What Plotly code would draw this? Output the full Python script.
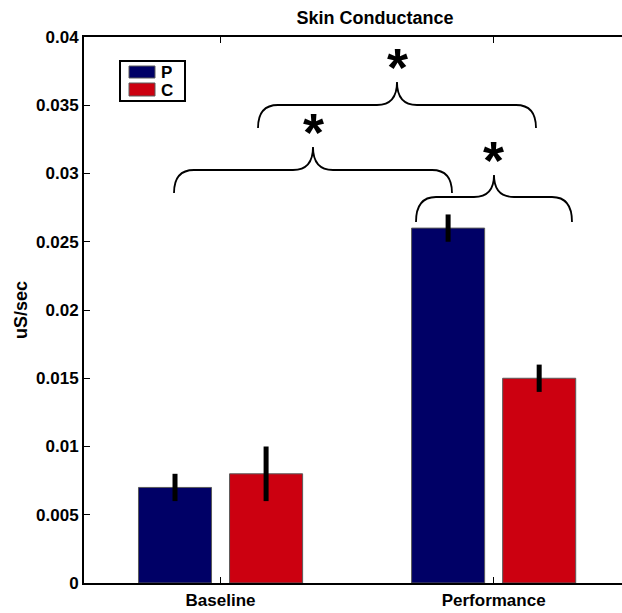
import plotly.graph_objects as go

# ---- data ----
conditions = ["Baseline", "Performance"]
series_names = ["P", "C"]
p_values = [0.007, 0.026]
p_errors = [0.001, 0.001]
c_values = [0.008, 0.015]
c_errors = [0.002, 0.001]
y_tick_values = [0, 0.005, 0.01, 0.015, 0.02, 0.025, 0.03, 0.035, 0.04]
y_tick_labels = ["0", "0.005", "0.01", "0.015", "0.02", "0.025", "0.03", "0.035", "0.04"]
title_text = "Skin Conductance"
y_label = "uS/sec"
star_text = "*"

# ---- style ----
W, H = 622, 613
ML, MR, MT, MB = 84, 0, 37, 30
XMIN, XMAX = -0.5, 1.47
YMIN, YMAX = 0, 0.04
NAVY = "#000066"
RED = "#cc0010"
COLORS = [NAVY, RED]
FONT = "Liberation Sans, Arial, sans-serif"

fig = go.Figure()
fig.add_trace(go.Bar(
    x=conditions, y=p_values, name=series_names[0],
    marker=dict(color=NAVY, line=dict(color="#5a5a5a", width=1)),
    error_y=dict(type="data", array=p_errors, color="black", thickness=5, width=0),
))
fig.add_trace(go.Bar(
    x=conditions, y=c_values, name=series_names[1],
    marker=dict(color=RED, line=dict(color="#5a5a5a", width=1)),
    error_y=dict(type="data", array=c_errors, color="black", thickness=5, width=0),
))

# helpers to place annotation braces (pixel -> paper / data)
pw = W - ML - MR
ph = H - MT - MB

def px_to_paper_x(px):
    return (px - ML) / pw

def py_to_paper_y(py):
    return (H - MB - py) / ph

def py_to_data(py):
    return YMAX - (py - MT) / ph * (YMAX - YMIN)

def brace(x0, x1, yb, yh, yp, r=20):
    xm = (x0 + x1) / 2
    X = px_to_paper_x
    Y = py_to_data
    pts = (
        f"M {X(x0)},{Y(yb)} Q {X(x0)},{Y(yh)} {X(x0 + r)},{Y(yh)} "
        f"L {X(xm - r)},{Y(yh)} Q {X(xm)},{Y(yh)} {X(xm)},{Y(yp)} "
        f"Q {X(xm)},{Y(yh)} {X(xm + r)},{Y(yh)} "
        f"L {X(x1 - r)},{Y(yh)} Q {X(x1)},{Y(yh)} {X(x1)},{Y(yb)}"
    )
    return dict(type="path", path=pts, xref="paper", yref="y",
                line=dict(color="black", width=1.8))

braces = [
    (174, 452, 193, 170, 147),
    (258, 536, 128, 105, 82),
    (416, 572, 222, 197, 175),
]
stars = [(313, 120), (397, 55), (493, 148)]

shapes = [brace(*b) for b in braces]
annotations = []
for sx, sy in stars:
    annotations.append(dict(
        x=px_to_paper_x(sx), y=py_to_data(sy), xref="paper", yref="y",
        text=star_text, showarrow=False, xanchor="center", yanchor="middle",
        yshift=-12,
        font=dict(family=FONT, size=54, color="black", weight="bold"),
    ))

# custom legend box (matches reference swatch shape)
shapes.append(dict(type="rect", xref="paper", yref="paper",
                   x0=px_to_paper_x(120), x1=px_to_paper_x(185),
                   y0=py_to_paper_y(101), y1=py_to_paper_y(61),
                   line=dict(color="black", width=2), fillcolor="white", layer="above"))
leg_rows = [(66, 78, 72), (83, 96, 89.5)]
for name, col, (ya, yb, yc) in zip(series_names, COLORS, leg_rows):
    shapes.append(dict(type="rect", xref="paper", yref="paper",
                       x0=px_to_paper_x(129), x1=px_to_paper_x(155),
                       y0=py_to_paper_y(yb), y1=py_to_paper_y(ya),
                       line=dict(color="#5a5a5a", width=1), fillcolor=col, layer="above"))
    annotations.append(dict(x=px_to_paper_x(160), y=py_to_paper_y(yc), xref="paper", yref="paper",
                            text=name, showarrow=False, xanchor="left", yanchor="middle",
                            height=16, valign="middle", borderpad=0,
                            font=dict(family=FONT, size=17, color="black", weight="bold")))

fig.update_layout(
    width=W, height=H,
    margin=dict(l=ML, r=MR, t=MT, b=MB, pad=0, autoexpand=False),
    paper_bgcolor="white", plot_bgcolor="white",
    barmode="group", bargap=0.333, bargroupgap=0.198,
    font=dict(family=FONT, size=16, color="black", weight="bold"),
    title=dict(text=title_text, x=375 / W, xanchor="center",
               y=1 - 18 / H, yanchor="middle", yref="container",
               font=dict(family=FONT, size=18, weight="bold")),
    xaxis=dict(range=[XMIN, XMAX], showline=True, linecolor="black", linewidth=2,
               mirror="ticks", ticks="inside", ticklen=6, tickwidth=1, tickcolor="black",
               showgrid=False, zeroline=False, automargin=False, ticklabelstandoff=1,
               tickfont=dict(family=FONT, size=17, weight="bold")),
    yaxis=dict(range=[YMIN, YMAX], showline=True, linecolor="black", linewidth=2,
               ticks="inside", ticklen=6, tickwidth=1, tickcolor="black",
               tickvals=y_tick_values, ticktext=y_tick_labels,
               showgrid=False, zeroline=False, automargin=False,
               tickfont=dict(family=FONT, size=17, weight="bold"),
               title=dict(text=y_label, standoff=4,
                          font=dict(family=FONT, size=18, weight="bold"))),
    shapes=shapes,
    annotations=annotations,
    showlegend=False,
)

fig.write_html(
    "out.html",
    config={"displayModeBar": False},
    post_script="document.body.style.margin='0';document.body.style.overflow='hidden';",
)
